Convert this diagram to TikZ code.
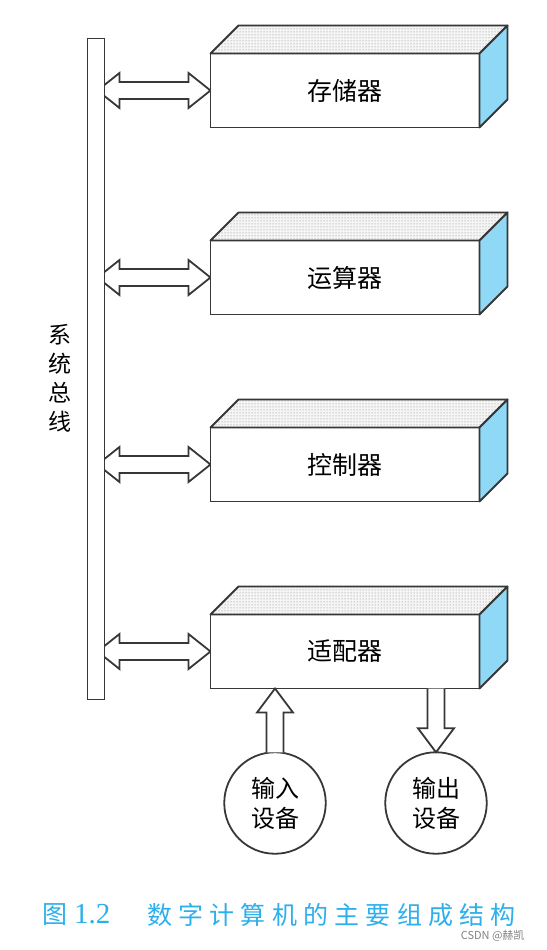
\documentclass[tikz,border=0pt]{standalone}
\usepackage{fontspec}
\newfontfamily\cjk{Noto Sans CJK SC}
\newfontfamily\capfont[LetterSpace=25]{Noto Sans CJK SC}
\newfontfamily\numfont{Liberation Serif}
\usetikzlibrary{positioning, calc, patterns, backgrounds}

\definecolor{sideblue}{RGB}{143,216,246}
\definecolor{capblue}{RGB}{45,175,235}
\definecolor{edge}{RGB}{55,55,55}

\tikzset{
  unit/.style={draw=edge, line width=1.8pt, fill=white, outer sep=0pt,
    minimum width=269pt, minimum height=74pt, font=\cjk\fontsize{25}{30}\selectfont},
  topface/.style={draw=edge, line width=1.8pt, line join=round,
    preaction={fill=gray!8}, pattern=dots, pattern color=black!50},
  sideface/.style={draw=edge, line width=1.8pt, line join=round, fill=sideblue},
  hollow/.style={draw=edge, line width=1.8pt, fill=white},
  busbar/.style={draw=edge, line width=1.8pt, fill=white, outer sep=0pt,
    minimum width=17pt, minimum height=661pt},
  device/.style={circle, draw=edge, line width=1.8pt, outer sep=0pt,
    minimum size=101.5pt, align=center, font=\cjk\fontsize{24}{30}\selectfont},
}

% top and side of a unit
\newcommand\unitfaces[1]{%
  \draw[topface] (#1.north west) -- ++(28,-28) -- ([shift={(28,-28)}]#1.north east)
    -- (#1.north east) -- cycle;
  \draw[sideface] (#1.north east) -- ++(28,-28) -- ([shift={(28,-28)}]#1.south east)
    -- (#1.south east) -- cycle;}

% hollow arrow with two heads, #1 to #2
\newcommand\busarrow[2]{%
  \coordinate (t) at (#1); \coordinate (h) at (#2);
  \coordinate (tb) at ($(t)!22pt!(h)$);
  \coordinate (hb) at ($(h)!22pt!(t)$);
  \draw[hollow] (t) -- ($(tb)!17.5pt!90:(h)$) -- ($(tb)!8.5pt!90:(h)$)
    -- ($(hb)!8.5pt!-90:(t)$) -- ($(hb)!17.5pt!-90:(t)$) -- (h)
    -- ($(hb)!17.5pt!90:(t)$) -- ($(hb)!8.5pt!90:(t)$)
    -- ($(tb)!8.5pt!-90:(h)$) -- ($(tb)!17.5pt!-90:(h)$) -- cycle;}

% hollow arrow with one head, open tail
\newcommand\ioarrow[2]{%
  \coordinate (t) at (#1); \coordinate (h) at (#2);
  \coordinate (hb) at ($(h)!24pt!(t)$);
  \draw[hollow] ($(t)!8.5pt!90:(h)$) -- ($(hb)!8.5pt!-90:(t)$) -- ($(hb)!18pt!-90:(t)$)
    -- (h) -- ($(hb)!18pt!90:(t)$) -- ($(hb)!8.5pt!90:(t)$) -- ($(t)!8.5pt!-90:(h)$);}

\begin{document}
\begin{tikzpicture}[x=1pt, y=-1pt, node distance=187pt, on grid]
    \useasboundingbox (0,0) rectangle (546,950);

    \node[busbar]        (bus)                           at (96,369)   {};
    \node[align=center, font=\cjk\fontsize{23}{29}\selectfont]
                         (buslabel)                      at (60,378)   {系\\统\\总\\线};

    \node[unit]          (mem)                           at (345,90.5) {存储器};
    \node[unit]          (alu)      [below=of mem]                     {运算器};
    \node[unit]          (ctl)      [below=of alu]                     {控制器};
    \node[unit]          (io)       [below=of ctl]                     {适配器};
    \unitfaces{mem}
    \unitfaces{alu}
    \unitfaces{ctl}
    \unitfaces{io}

    \begin{pgfonlayer}{background}
        \busarrow{[xshift=-7pt]bus.east |- mem.west}{mem.west}
        \busarrow{[xshift=-7pt]bus.east |- alu.west}{alu.west}
        \busarrow{[xshift=-7pt]bus.east |- ctl.west}{ctl.west}
        \busarrow{[xshift=-7pt]bus.east |- io.west}{io.west}
    \end{pgfonlayer}

    \node[device]        (in)                            at (275,803)  {输入\\设备};
    \node[device]        (out)      [right=161pt of in]                {输出\\设备};
    \ioarrow{in.north}{in.north |- io.south}
    \ioarrow{out.north |- io.south}{out.north}

    \node[anchor=west, text=capblue, font=\fontsize{25}{30}\selectfont, inner sep=0pt]
                         (capnum)                        at (42,915)
        {{\cjk 图}\hspace{7pt}{\numfont\fontsize{29}{30}\selectfont 1.2}};
    \node[anchor=west, text=capblue, font=\capfont\fontsize{25}{30}\selectfont, inner sep=0pt]
                         (captext)                       at (147,915)  {数字计算机的主要组成结构};
    \node[anchor=east, text=gray, font=\cjk\fontsize{11}{13}\selectfont]
                         (mark)                          at (528,936)  {CSDN @赫凯};
\end{tikzpicture}
\end{document}
